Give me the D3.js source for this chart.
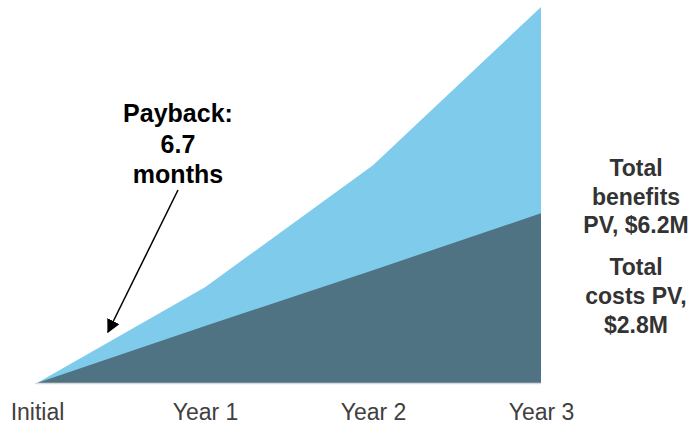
<!DOCTYPE html>
<html><head><meta charset="utf-8">
<script src="https://cdn.jsdelivr.net/npm/d3@7"></script>
<style>html,body{margin:0;padding:0;background:#fff;}svg{display:block;}</style>
</head><body>
<svg id="c" width="688" height="425"></svg>
<script>
const categories = ["Initial", "Year 1", "Year 2", "Year 3"];
const benefits = [0, 1.58, 3.59, 6.2];
const costs = [0, 0.94, 1.86, 2.8];
const payback = ["Payback:", "6.7", "months"];
const benefitsLabel = ["Total", "benefits", "PV, $6.2M"];
const costsLabel = ["Total", "costs PV,", "$2.8M"];

const svg = d3.select("#c");
const x = d3.scalePoint().domain(categories).range([37, 541]);
const y = d3.scaleLinear().domain([0, 6.2]).range([383, 7]);

const area = (vals) => d3.area()
  .x((d, i) => x(categories[i]))
  .y0(y(0))
  .y1(d => y(d))(vals);

svg.append("path").attr("d", area(benefits)).attr("fill", "#7fcbeb");
svg.append("path").attr("d", area(costs)).attr("fill", "#4f7383");

svg.append("line").attr("x1", 35).attr("x2", x("Year 3")).attr("y1", y(0) + 0.5).attr("y2", y(0) + 0.5)
  .attr("stroke", "#d9d9d9").attr("stroke-width", 1.5);

const font = "Liberation Sans, Arial, sans-serif";
const xAxis = svg.append("g").attr("transform", `translate(0,${y(0)})`)
  .call(d3.axisBottom(x).tickSize(0).tickPadding(21));
xAxis.select(".domain").remove();
xAxis.selectAll("text").attr("font-family", font)
  .attr("font-size", 23).attr("fill", "#404040");

const pb = svg.append("text").attr("text-anchor", "middle").attr("font-family", font)
  .attr("font-size", 25).attr("font-weight", "bold").attr("fill", "#000");
payback.forEach((t, i) => pb.append("tspan").attr("x", 178).attr("y", 122 + i * 30.5).text(t));

const defs = svg.append("defs");
defs.append("marker").attr("id", "ah").attr("viewBox", "0 0 10 10").attr("refX", 9).attr("refY", 5)
  .attr("markerWidth", 9).attr("markerHeight", 9).attr("markerUnits", "strokeWidth").attr("orient", "auto")
  .append("path").attr("d", "M0,0 L10,5 L0,10 Z").attr("fill", "#000");
svg.append("line").attr("x1", 178).attr("y1", 190).attr("x2", 108).attr("y2", 332)
  .attr("stroke", "#000").attr("stroke-width", 1.5).attr("marker-end", "url(#ah)");

const tb = svg.append("text").attr("text-anchor", "middle").attr("font-family", font)
  .attr("font-size", 23).attr("font-weight", "bold").attr("fill", "#333");
benefitsLabel.forEach((t, i) => tb.append("tspan").attr("x", 636).attr("y", 176 + i * 28.7).text(t));
const tc = svg.append("text").attr("text-anchor", "middle").attr("font-family", font)
  .attr("font-size", 23).attr("font-weight", "bold").attr("fill", "#333");
costsLabel.forEach((t, i) => tc.append("tspan").attr("x", 636).attr("y", 275 + i * 28.8).text(t));
</script>
</body></html>
